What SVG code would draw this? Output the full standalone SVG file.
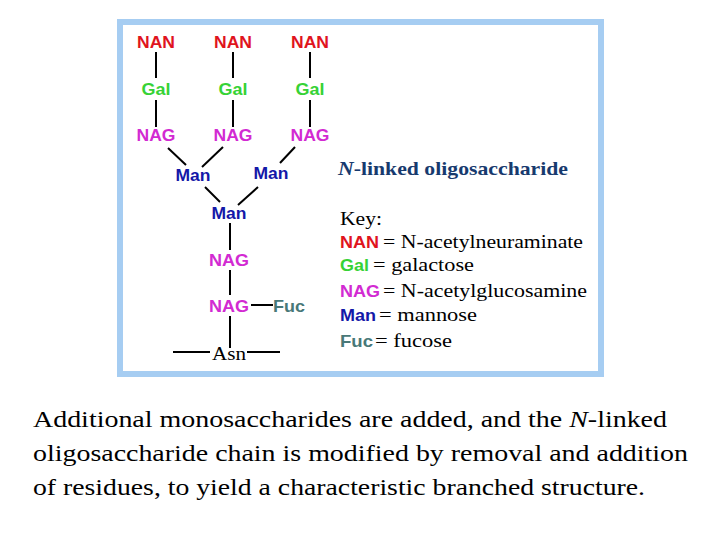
<svg xmlns="http://www.w3.org/2000/svg" width="720" height="540" viewBox="0 0 720 540">
<style>
.s{font-family:"Liberation Sans",Arial,sans-serif;font-weight:bold;font-size:16.5px;text-anchor:middle}
.k{font-family:"Liberation Sans",Arial,sans-serif;font-weight:bold;font-size:16.5px}
.nan{fill:#e0141e}.gal{fill:#36d236}.nag{fill:#d22ad2}.man{fill:#1418a8}.fuc{fill:#487878}
.t{font-family:"Liberation Serif","Times New Roman",serif;font-size:18.5px;fill:#000}
.ln{stroke:#000;stroke-width:2;fill:none}
</style>
<rect width="720" height="540" fill="#fff"/>
<rect x="120" y="22" width="481" height="352" fill="#fff" stroke="#a6cdf2" stroke-width="6"/>
<g id="connectors" class="ln">
<line x1="156" y1="52" x2="156" y2="78"/><line x1="156" y1="100" x2="156" y2="127"/>
<line x1="233" y1="52" x2="233" y2="78"/><line x1="233" y1="100" x2="233" y2="127"/>
<line x1="310" y1="52" x2="310" y2="78"/><line x1="310" y1="100" x2="310" y2="127"/>
<line x1="168" y1="148" x2="186" y2="165"/>
<line x1="223" y1="147" x2="202" y2="167"/>
<line x1="295" y1="147" x2="280" y2="163"/>
<line x1="205" y1="187" x2="220" y2="202"/>
<line x1="258" y1="187" x2="238" y2="205"/>
<line x1="230" y1="223" x2="230" y2="250"/>
<line x1="230" y1="270" x2="230" y2="295"/>
<line x1="230" y1="316" x2="230" y2="348"/>
<line x1="251" y1="305" x2="273" y2="305"/>
<line x1="173" y1="352" x2="210" y2="352"/>
<line x1="247" y1="352" x2="280" y2="352"/>
</g>
<g id="nan1"><text class="s nan" x="156" y="48" textLength="38" lengthAdjust="spacingAndGlyphs">NAN</text></g>
<g id="nan2"><text class="s nan" x="233" y="48" textLength="38" lengthAdjust="spacingAndGlyphs">NAN</text></g>
<g id="nan3"><text class="s nan" x="310" y="48" textLength="38" lengthAdjust="spacingAndGlyphs">NAN</text></g>
<g id="gal1"><text class="s gal" x="156" y="95" textLength="29" lengthAdjust="spacingAndGlyphs">Gal</text></g>
<g id="gal2"><text class="s gal" x="233" y="95" textLength="29" lengthAdjust="spacingAndGlyphs">Gal</text></g>
<g id="gal3"><text class="s gal" x="310" y="95" textLength="29" lengthAdjust="spacingAndGlyphs">Gal</text></g>
<g id="nag1"><text class="s nag" x="156" y="141" textLength="39" lengthAdjust="spacingAndGlyphs">NAG</text></g>
<g id="nag2"><text class="s nag" x="233" y="141" textLength="39" lengthAdjust="spacingAndGlyphs">NAG</text></g>
<g id="nag3"><text class="s nag" x="310" y="141" textLength="39" lengthAdjust="spacingAndGlyphs">NAG</text></g>
<g id="man1"><text class="s man" x="193" y="181" textLength="35" lengthAdjust="spacingAndGlyphs">Man</text></g>
<g id="man2"><text class="s man" x="271" y="179" textLength="35" lengthAdjust="spacingAndGlyphs">Man</text></g>
<g id="man3"><text class="s man" x="229" y="219" textLength="35" lengthAdjust="spacingAndGlyphs">Man</text></g>
<g id="nag4"><text class="s nag" x="229" y="266" textLength="40" lengthAdjust="spacingAndGlyphs">NAG</text></g>
<g id="nag5"><text class="s nag" x="229" y="312" textLength="40" lengthAdjust="spacingAndGlyphs">NAG</text></g>
<g id="fuc"><text class="k fuc" x="273" y="312" textLength="32" lengthAdjust="spacingAndGlyphs">Fuc</text></g>
<g id="asn"><text class="t" x="229" y="360" text-anchor="middle" font-size="20.5" textLength="34" lengthAdjust="spacingAndGlyphs">Asn</text></g>
<g id="title"><text x="338" y="175" font-family="'Liberation Serif','Times New Roman',serif" font-weight="bold" font-size="19.5" fill="#173a6e" textLength="230" lengthAdjust="spacingAndGlyphs"><tspan font-style="italic">N</tspan>-linked oligosaccharide</text></g>
<g id="key">
<text class="t" x="340" y="225" textLength="42" lengthAdjust="spacingAndGlyphs">Key:</text>
<text class="k nan" x="340" y="248" textLength="39" lengthAdjust="spacingAndGlyphs">NAN</text>
<text class="t" x="383" y="248" textLength="200" lengthAdjust="spacingAndGlyphs">= N-acetylneuraminate</text>
<text class="k gal" x="340" y="271" textLength="29" lengthAdjust="spacingAndGlyphs">Gal</text>
<text class="t" x="373" y="271" textLength="101" lengthAdjust="spacingAndGlyphs">= galactose</text>
<text class="k nag" x="340" y="297" textLength="40" lengthAdjust="spacingAndGlyphs">NAG</text>
<text class="t" x="383" y="297" textLength="204" lengthAdjust="spacingAndGlyphs">= N-acetylglucosamine</text>
<text class="k man" x="340" y="321" textLength="36" lengthAdjust="spacingAndGlyphs">Man</text>
<text class="t" x="379" y="321" textLength="98" lengthAdjust="spacingAndGlyphs">= mannose</text>
<text class="k fuc" x="340" y="347" textLength="33" lengthAdjust="spacingAndGlyphs">Fuc</text>
<text class="t" x="375" y="347" textLength="77" lengthAdjust="spacingAndGlyphs">= fucose</text>
</g>
<g id="caption" font-family="serif" font-size="23.5" fill="#000">
<text x="33" y="427" font-family="Liberation Serif, serif" textLength="634" lengthAdjust="spacingAndGlyphs">Additional monosaccharides are added, and the <tspan font-style="italic">N</tspan>-linked</text>
<text x="33" y="461" font-family="Liberation Serif, serif" textLength="655" lengthAdjust="spacingAndGlyphs">oligosaccharide chain is modified by removal and addition</text>
<text x="33" y="495" font-family="Liberation Serif, serif" textLength="612" lengthAdjust="spacingAndGlyphs">of residues, to yield a characteristic branched structure.</text>
</g>
</svg>
